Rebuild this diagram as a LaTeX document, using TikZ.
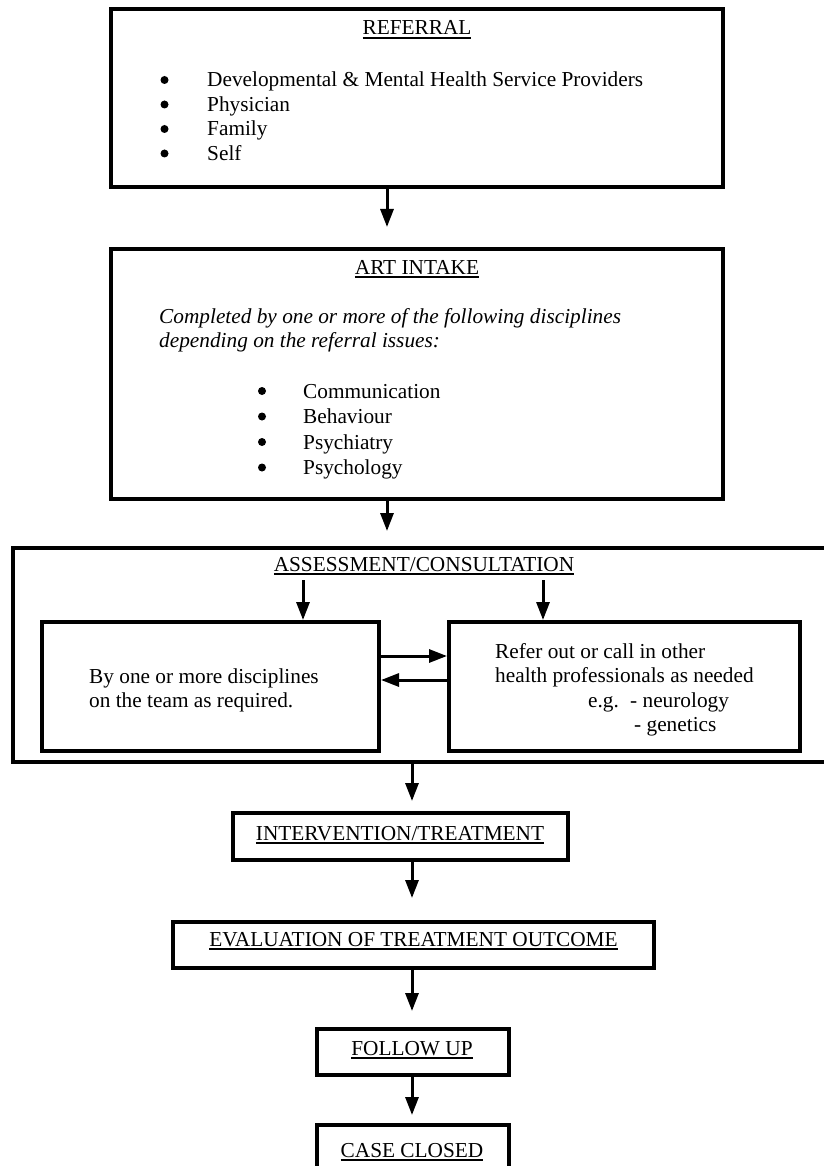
\documentclass[tikz,border=0pt]{standalone}
\usepackage{fontspec}
\setmainfont{Liberation Serif}
\usetikzlibrary{arrows.meta}
\newcommand\ulx[1]{\setbox0\hbox{#1}\rlap{\rule[-3.9pt]{\wd0}{1.8pt}}\box0}
\begin{document}
\begin{tikzpicture}[x=1pt,y=-1pt,
  box/.style={draw, line width=4pt, inner sep=0pt},
  txt/.style={inner sep=0pt, font=\fontsize{21.3}{24.5}\selectfont},
  itxt/.style={inner sep=0pt, font=\fontsize{21.3}{24.5}\selectfont\itshape},
  dot/.style={circle, fill, inner sep=0pt, minimum size=8pt},
  arr/.style={line width=3pt, -{Triangle[width=13pt,length=18pt]}}]
\useasboundingbox (0,0) rectangle (823,1166);
% boxes
\node[box, minimum width=612pt, minimum height=178pt] (referral) at (417,98) {};
\node[box, minimum width=612pt, minimum height=250pt] (intake) at (417,374) {};
\node[box, minimum width=822pt, minimum height=214pt] (assess) at (424,655) {};
\node[box, minimum width=337pt, minimum height=129pt] (teambox) at (210.5,686.5) {};
\node[box, minimum width=351pt, minimum height=129pt] (referbox) at (624.5,686.5) {};
\node[box, minimum width=335pt, minimum height=47pt] (interv) at (400.5,836.5) {};
\node[box, minimum width=481pt, minimum height=46pt] (evalbox) at (413.5,945) {};
\node[box, minimum width=192pt, minimum height=46pt] (follow) at (413,1052) {};
\node[box, minimum width=192pt, minimum height=75pt] (closed) at (413,1162.5) {};
% referral texts
\node[txt, anchor=base] (reftitle) at (417,35) {\ulx{REFERRAL}};
\node[dot] (rb1) at (164.5,80) {};
\node[dot] (rb2) at (164.5,104.5) {};
\node[dot] (rb3) at (164.5,129) {};
\node[dot] (rb4) at (164.5,153.5) {};
\node[txt, anchor=base west] (rt1) at (207,87) {Developmental \& Mental Health Service Providers};
\node[txt, anchor=base west] (rt2) at (207,111.5) {Physician};
\node[txt, anchor=base west] (rt3) at (207,136) {Family};
\node[txt, anchor=base west] (rt4) at (207,160.5) {Self};
% intake texts
\node[txt, anchor=base] (inttitle) at (417,274) {\ulx{ART INTAKE}};
\node[itxt, anchor=base west] (it1) at (159,323) {Completed by one or more of the following disciplines};
\node[itxt, anchor=base west] (it2) at (159,347) {depending on the referral issues:};
\node[dot] (ib1) at (262,391) {};
\node[dot] (ib2) at (262,416.5) {};
\node[dot] (ib3) at (262,442) {};
\node[dot] (ib4) at (262,467.5) {};
\node[txt, anchor=base west] (ic1) at (303,398) {Communication};
\node[txt, anchor=base west] (ic2) at (303,423.5) {Behaviour};
\node[txt, anchor=base west] (ic3) at (303,449) {Psychiatry};
\node[txt, anchor=base west] (ic4) at (303,474.5) {Psychology};
% assessment texts
\node[txt, anchor=base] (astitle) at (424,571) {\ulx{ASSESSMENT/CONSULTATION}};
\node[txt, anchor=base west] (tb1) at (89,683) {By one or more disciplines};
\node[txt, anchor=base west] (tb2) at (89,707) {on the team as required.};
\node[txt, anchor=base west] (rf1) at (495,658) {Refer out or call in other};
\node[txt, anchor=base west] (rf2) at (495,682.5) {health professionals as needed};
\node[txt, anchor=base west] (rf3) at (588,707) {e.g.};
\node[txt, anchor=base west] (rf4) at (630,707) {- neurology};
\node[txt, anchor=base west] (rf5) at (634,731) {- genetics};
% lower texts
\node[txt, anchor=base] (invtxt) at (400,840) {\ulx{INTERVENTION/TREATMENT}};
\node[txt, anchor=base] (evtxt) at (413.5,946) {\ulx{EVALUATION OF TREATMENT OUTCOME}};
\node[txt, anchor=base] (futxt) at (412,1055) {\ulx{FOLLOW UP}};
\node[txt, anchor=base] (cctxt) at (412,1157) {\ulx{CASE CLOSED}};
% connectors
\coordinate (colA) at (387,0);
\coordinate (colB) at (412,0);
\coordinate (s1) at (303,580);
\coordinate (s2) at (543,580);
\draw[arr, shorten >=20pt] (referral.south -| colA) -- (intake.north -| colA);
\draw[arr, shorten >=15pt] (intake.south -| colA) -- (assess.north -| colA);
\draw[arr] (s1) -- (s1 |- teambox.north);
\draw[arr] (s2) -- (s2 |- referbox.north);
\draw[arr] ([yshift=30.5pt]teambox.east) -- ([yshift=30.5pt]referbox.west);
\draw[arr] ([yshift=6.5pt]referbox.west) -- ([yshift=6.5pt]teambox.east);
\draw[arr, shorten >=10pt] (assess.south -| colB) -- (interv.north -| colB);
\draw[arr, shorten >=22pt] (interv.south -| colB) -- (evalbox.north -| colB);
\draw[arr, shorten >=16pt] (evalbox.south -| colB) -- (follow.north -| colB);
\draw[arr, shorten >=8pt] (follow.south -| colB) -- (closed.north -| colB);
\end{tikzpicture}
\end{document}
